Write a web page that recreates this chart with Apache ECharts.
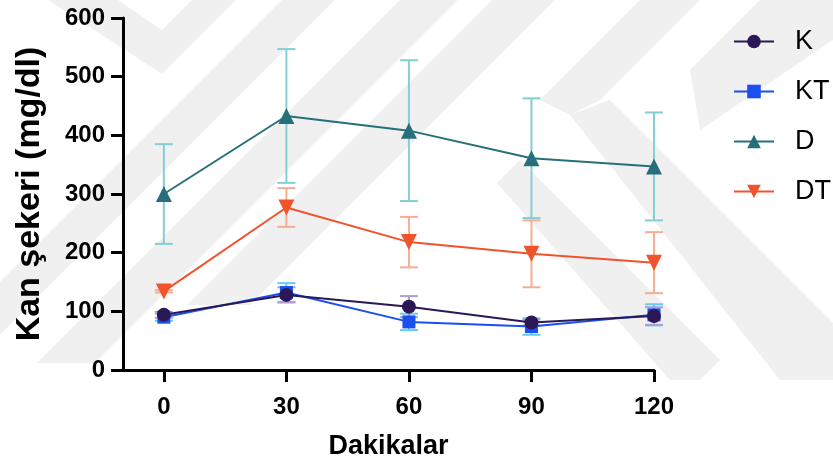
<!DOCTYPE html>
<html>
<head>
<meta charset="utf-8">
<script src="https://cdn.jsdelivr.net/npm/echarts@6/dist/echarts.min.js"></script>
<style>
  html, body { margin: 0; padding: 0; background: #fff; }
  #chart { width: 833px; height: 463px; }
</style>
</head>
<body>
<div id="chart"></div>
<script>
// Blood glucose over time per group (mean ± SD)
const minutes = [0, 30, 60, 90, 120];
const groups = ['K', 'KT', 'D', 'DT'];
const kMean  = [94, 128, 108, 81, 92];
const kSd    = [5, 13, 18, 5, 15];
const ktMean = [90, 132, 82, 74, 94];
const ktSd   = [6, 16, 14, 14, 18];
const dMean  = [300, 433, 408, 361, 347];
const dSd    = [85, 114, 120, 102, 92];
const dtMean = [134, 277, 218, 198, 183];
const dtSd   = [2, 33, 43, 57, 52];
const yTicks = [0, 100, 200, 300, 400, 500, 600];

const FONT = '"Liberation Sans", Arial, sans-serif';

const styles = {
  K:  { line: '#2b1856', err: '#ad9fd6', symbol: 'circle',   size: 14, rotate: 0 },
  KT: { line: '#1a4ff0', err: '#62cdef', symbol: 'rect',     size: 13, rotate: 0 },
  D:  { line: '#276f7a', err: '#84ced6', symbol: 'triangle', size: 16, rotate: 0 },
  DT: { line: '#f1532b', err: '#f4ae92', symbol: 'triangle', size: 16, rotate: 180 }
};
const means = { K: kMean, KT: ktMean, D: dMean, DT: dtMean };
const sds   = { K: kSd,   KT: ktSd,   D: dSd,   DT: dtSd };

// light grey background emblem, drawn as plain polygons behind the plot
const emblemColor = '#f0f0f0';
const emblem = [
  [[48, 0], [118, 0], [162, 30], [192, 0], [236, 0], [162, 74]],
  [[282, 0], [335, 0], [0, 335], [0, 282]],
  [[400, 0], [458, 0], [95, 363], [37, 363]],
  [[492, 0], [555, 0], [250, 305], [187, 305]],
  [[640, 0], [700, 0], [600, 100], [570, 115], [540, 100]],
  [[570, 115], [610, 100], [833, 323], [833, 380], [780, 380]],
  [[497, 183], [520, 160], [720, 360], [700, 380], [670, 380]],
  [[497, 183], [520, 160], [330, 350], [300, 380], [310, 370]],
  [[760, 0], [833, 0], [833, 40], [700, 130], [690, 70]]
];

function errorSeries(name) {
  const st = styles[name];
  const data = minutes.map((m, i) => [m, means[name][i] - sds[name][i], means[name][i] + sds[name][i]]);
  return {
    name: name + ' SD',
    type: 'custom',
    z: 1,
    encode: { x: 0, y: [1, 2] },
    data: data,
    renderItem: function (params, api) {
      const x = api.value(0);
      const top = api.coord([x, api.value(2)]);
      const bot = api.coord([x, api.value(1)]);
      const w = 9;
      const style = { stroke: st.err, lineWidth: 2, fill: null };
      return {
        type: 'group',
        children: [
          { type: 'line', shape: { x1: top[0], y1: top[1], x2: bot[0], y2: bot[1] }, style: style },
          { type: 'line', shape: { x1: top[0] - w, y1: top[1], x2: top[0] + w, y2: top[1] }, style: style },
          { type: 'line', shape: { x1: bot[0] - w, y1: bot[1], x2: bot[0] + w, y2: bot[1] }, style: style }
        ]
      };
    }
  };
}

function lineSeries(name) {
  const st = styles[name];
  return {
    name: name,
    type: 'line',
    z: 3,
    data: minutes.map((m, i) => [m, means[name][i]]),
    symbol: st.symbol,
    symbolSize: st.size,
    symbolRotate: st.rotate,
    showAllSymbol: true,
    lineStyle: { color: st.line, width: 2 },
    itemStyle: { color: st.line, borderWidth: 0 },
    emphasis: { disabled: true }
  };
}

const chart = echarts.init(document.getElementById('chart'), null, { renderer: 'canvas' });

chart.setOption({
  animation: false,
  backgroundColor: '#ffffff',
  graphic: emblem.map(pts => ({
    type: 'polygon',
    z: -10,
    silent: true,
    shape: { points: pts },
    style: { fill: emblemColor }
  })),
  grid: { left: 123, top: 18, width: 531, height: 352, containLabel: false, outerBoundsMode: 'none' },
  legend: {
    data: groups,
    orient: 'vertical',
    left: 733,
    top: 28,
    padding: 0,
    itemWidth: 40,
    itemHeight: 17,
    itemGap: 23,
    textStyle: { fontFamily: FONT, fontSize: 27, color: '#000', lineHeight: 27, padding: [0, 0, 0, 16] },
    selectedMode: false
  },
  xAxis: {
    type: 'value',
    min: -10,
    max: 120,
    name: 'Dakikalar',
    nameLocation: 'middle',
    nameGap: 63,
    nameTextStyle: { fontFamily: FONT, fontSize: 27, fontWeight: 'bold', color: '#000' },
    axisLine: { show: true, onZero: false, lineStyle: { color: '#000', width: 3 } },
    axisTick: { show: true, length: 12, lineStyle: { color: '#000', width: 3 }, customValues: minutes },
    axisLabel: { fontFamily: FONT, fontSize: 24, fontWeight: 'bold', color: '#000', margin: 25, customValues: minutes },
    splitLine: { show: false }
  },
  yAxis: {
    type: 'value',
    min: 0,
    max: 600,
    interval: 100,
    name: 'Kan şekeri (mg/dl)',
    nameLocation: 'middle',
    nameGap: 76,
    nameTextStyle: { fontFamily: FONT, fontSize: 34, fontWeight: 'bold', color: '#000' },
    axisLine: { show: true, onZero: false, lineStyle: { color: '#000', width: 3 } },
    axisTick: { show: true, length: 12, lineStyle: { color: '#000', width: 3 }, customValues: yTicks },
    axisLabel: { fontFamily: FONT, fontSize: 24, fontWeight: 'bold', color: '#000', margin: 18, customValues: yTicks },
    splitLine: { show: false }
  },
  series: [
    errorSeries('D'), errorSeries('DT'), errorSeries('KT'), errorSeries('K'),
    lineSeries('D'), lineSeries('DT'), lineSeries('KT'), lineSeries('K')
  ]
});
</script>
</body>
</html>
